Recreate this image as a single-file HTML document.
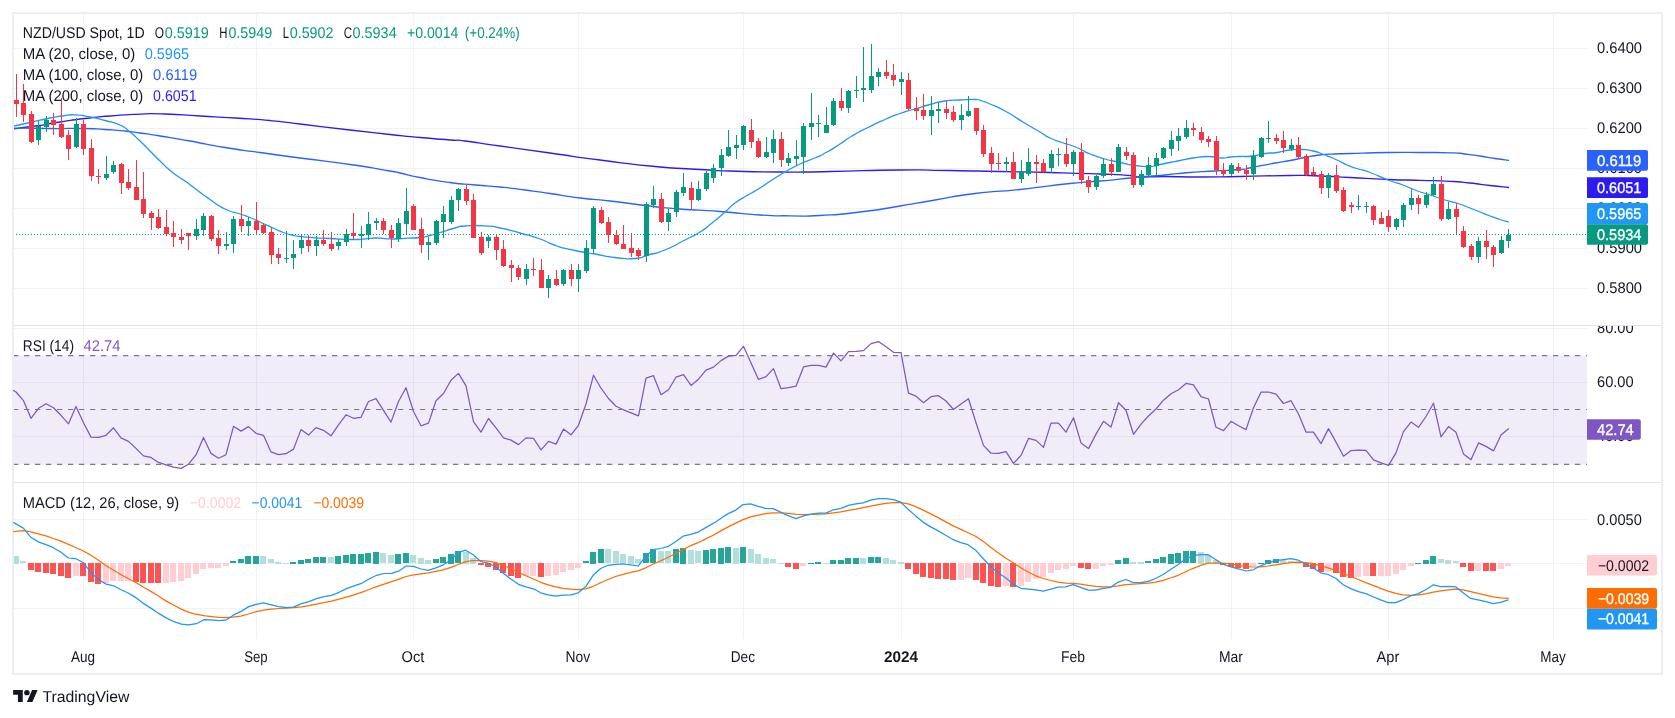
<!DOCTYPE html>
<html><head><meta charset="utf-8"><title>NZD/USD</title>
<style>html,body{margin:0;padding:0;background:#fff}svg{display:block;will-change:transform}text{text-rendering:geometricPrecision}</style></head>
<body>
<svg width="1675" height="718" viewBox="0 0 1675 718" font-family='"Liberation Sans", sans-serif'>
<rect x="0" y="0" width="1675" height="718" fill="#FFFFFF" />
<g shape-rendering="crispEdges">
<rect x="12" y="12" width="1651" height="2" fill="#ECEEF3" />
<rect x="12" y="673" width="1651" height="2" fill="#ECEEF3" />
<rect x="12" y="12" width="2" height="663" fill="#ECEEF3" />
<rect x="1661" y="12" width="2" height="663" fill="#ECEEF3" />
<rect x="83" y="14" width="1" height="625" fill="#F0F2F6" />
<rect x="256" y="14" width="1" height="625" fill="#F0F2F6" />
<rect x="413" y="14" width="1" height="625" fill="#F0F2F6" />
<rect x="578" y="14" width="1" height="625" fill="#F0F2F6" />
<rect x="743" y="14" width="1" height="625" fill="#F0F2F6" />
<rect x="901" y="14" width="1" height="625" fill="#F0F2F6" />
<rect x="1073" y="14" width="1" height="625" fill="#F0F2F6" />
<rect x="1231" y="14" width="1" height="625" fill="#F0F2F6" />
<rect x="1388" y="14" width="1" height="625" fill="#F0F2F6" />
<rect x="1553" y="14" width="1" height="625" fill="#F0F2F6" />
<rect x="14" y="47.5" width="1573" height="1" fill="#F0F2F6" />
<rect x="14" y="87.5" width="1573" height="1" fill="#F0F2F6" />
<rect x="14" y="127.5" width="1573" height="1" fill="#F0F2F6" />
<rect x="14" y="167.5" width="1573" height="1" fill="#F0F2F6" />
<rect x="14" y="207.5" width="1573" height="1" fill="#F0F2F6" />
<rect x="14" y="247.5" width="1573" height="1" fill="#F0F2F6" />
<rect x="14" y="287.5" width="1573" height="1" fill="#F0F2F6" />
<rect x="14" y="327.5" width="1573" height="1" fill="#F0F2F6" />
<rect x="14" y="381.5" width="1573" height="1" fill="#F0F2F6" />
<rect x="14" y="435.5" width="1573" height="1" fill="#F0F2F6" />
<rect x="14" y="518.5" width="1573" height="1" fill="#F0F2F6" />
<rect x="14" y="562.5" width="1573" height="1" fill="#F0F2F6" />
<rect x="14" y="607.5" width="1573" height="1" fill="#F0F2F6" />
<rect x="14" y="325" width="1647" height="1" fill="#E0E3EB" />
<rect x="14" y="482" width="1647" height="1" fill="#E0E3EB" />
</g>
<clipPath id="cm"><rect x="14" y="14" width="1573" height="311"/></clipPath>
<g clip-path="url(#cm)">
<path d="M12.0,129.0 C19.7,128.0 19.0,128.3 35.0,126.0 C51.0,123.7 43.3,124.5 60.0,122.0 C76.7,119.5 68.3,120.5 85.0,118.5 C101.7,116.5 93.3,117.4 110.0,116.0 C126.7,114.6 116.7,115.0 135.0,114.3 C153.3,113.6 143.3,113.4 165.0,114.0 C186.7,114.6 176.7,114.7 200.0,116.0 C223.3,117.3 211.7,116.5 235.0,118.0 C258.3,119.5 248.3,118.5 270.0,120.5 C291.7,122.5 273.3,120.8 300.0,124.0 C326.7,127.2 320.0,126.5 350.0,130.0 C380.0,133.5 366.7,132.0 390.0,134.5 C413.3,137.0 400.0,135.7 420.0,137.5 C440.0,139.3 435.0,138.8 450.0,140.0 C465.0,141.2 448.3,139.0 465.0,141.0 C481.7,143.0 471.7,142.0 500.0,146.0 C528.3,150.0 516.7,148.3 550.0,153.0 C583.3,157.7 566.7,155.7 600.0,160.0 C633.3,164.3 616.7,162.8 650.0,166.0 C683.3,169.2 673.3,167.8 700.0,169.5 C726.7,171.2 703.3,170.2 730.0,171.0 C756.7,171.8 746.7,171.8 780.0,172.0 C813.3,172.2 790.0,172.2 830.0,171.5 C870.0,170.8 860.0,170.3 900.0,170.0 C940.0,169.7 916.7,170.0 950.0,170.5 C983.3,171.0 966.7,170.8 1000.0,171.5 C1033.3,172.2 1016.7,171.7 1050.0,172.5 C1083.3,173.3 1073.3,173.0 1100.0,174.0 C1126.7,175.0 1116.7,174.5 1130.0,175.5 C1143.3,176.5 1128.3,176.7 1140.0,177.0 C1151.7,177.3 1145.0,176.5 1165.0,176.5 C1185.0,176.5 1175.0,177.0 1200.0,177.0 C1225.0,177.0 1210.0,177.0 1240.0,176.5 C1270.0,176.0 1263.3,175.7 1290.0,175.5 C1316.7,175.3 1300.0,175.3 1320.0,176.0 C1340.0,176.7 1327.3,176.3 1350.0,177.5 C1372.7,178.7 1364.7,178.6 1388.0,179.5 C1411.3,180.4 1399.3,179.7 1420.0,180.3 C1440.7,180.9 1433.3,180.4 1450.0,181.3 C1466.7,182.2 1456.7,181.6 1470.0,183.0 C1483.3,184.4 1477.2,184.0 1490.0,185.5 C1502.8,187.0 1502.3,186.8 1508.5,187.5" fill="none" stroke="#2D1CF0" stroke-width="1.3" stroke-linejoin="round" stroke-linecap="round" />
<path d="M12.0,128.0 C24.7,128.2 25.7,128.3 50.0,128.5 C74.3,128.7 66.7,128.2 85.0,128.5 C103.3,128.8 91.7,128.7 105.0,129.5 C118.3,130.3 113.3,129.8 125.0,131.0 C136.7,132.2 128.3,131.3 140.0,133.0 C151.7,134.7 143.3,133.3 160.0,136.0 C176.7,138.7 168.3,137.2 190.0,141.0 C211.7,144.8 201.7,143.7 225.0,147.5 C248.3,151.3 235.0,149.0 260.0,152.5 C285.0,156.0 270.0,154.0 300.0,158.0 C330.0,162.0 320.0,160.2 350.0,164.5 C380.0,168.8 373.3,168.2 390.0,171.0 C406.7,173.8 390.0,170.8 400.0,173.0 C410.0,175.2 403.3,174.3 420.0,177.5 C436.7,180.7 431.7,180.0 450.0,182.5 C468.3,185.0 458.3,183.5 475.0,185.0 C491.7,186.5 483.3,185.3 500.0,187.0 C516.7,188.7 508.3,187.8 525.0,190.0 C541.7,192.2 531.7,190.8 550.0,193.5 C568.3,196.2 560.0,195.5 580.0,198.0 C600.0,200.5 586.7,198.3 610.0,201.0 C633.3,203.7 626.7,203.3 650.0,206.0 C673.3,208.7 656.7,207.2 680.0,209.0 C703.3,210.8 693.3,209.5 720.0,211.5 C746.7,213.5 736.7,213.6 760.0,215.0 C783.3,216.4 770.0,215.6 790.0,215.8 C810.0,216.0 796.7,216.8 820.0,215.5 C843.3,214.2 833.3,215.2 860.0,212.0 C886.7,208.8 875.0,210.0 900.0,206.0 C925.0,202.0 910.0,204.2 935.0,200.0 C960.0,195.8 946.7,197.0 975.0,193.5 C1003.3,190.0 988.3,192.8 1020.0,189.5 C1051.7,186.2 1043.3,186.3 1070.0,183.5 C1096.7,180.7 1080.0,182.8 1100.0,181.0 C1120.0,179.2 1116.7,179.3 1130.0,178.0 C1143.3,176.7 1128.3,178.0 1140.0,177.0 C1151.7,176.0 1148.3,176.5 1165.0,175.0 C1181.7,173.5 1173.3,173.8 1190.0,172.5 C1206.7,171.2 1198.3,172.0 1215.0,171.0 C1231.7,170.0 1227.7,170.7 1240.0,169.5 C1252.3,168.3 1240.3,169.7 1252.0,167.5 C1263.7,165.3 1262.3,165.3 1275.0,163.0 C1287.7,160.7 1280.0,162.3 1290.0,160.5 C1300.0,158.7 1295.0,159.3 1305.0,157.5 C1315.0,155.7 1310.0,156.2 1320.0,155.0 C1330.0,153.8 1325.0,154.5 1335.0,154.0 C1345.0,153.5 1332.3,154.0 1350.0,153.5 C1367.7,153.0 1364.7,152.8 1388.0,152.5 C1411.3,152.2 1399.3,152.4 1420.0,152.5 C1440.7,152.6 1435.0,152.3 1450.0,152.8 C1465.0,153.3 1455.0,152.9 1465.0,154.0 C1475.0,155.1 1470.0,154.5 1480.0,156.0 C1490.0,157.5 1485.5,157.1 1495.0,158.5 C1504.5,159.9 1504.0,159.7 1508.5,160.3" fill="none" stroke="#2962FF" stroke-width="1.3" stroke-linejoin="round" stroke-linecap="round" />
<path d="M12.0,126.5 C18.0,125.2 17.3,125.3 30.0,122.5 C42.7,119.7 39.3,120.2 50.0,118.0 C60.7,115.8 53.7,117.1 62.0,116.0 C70.3,114.9 65.7,114.5 75.0,114.8 C84.3,115.1 80.0,115.1 90.0,117.0 C100.0,118.9 95.0,117.8 105.0,120.5 C115.0,123.2 111.7,121.2 120.0,125.0 C128.3,128.8 123.3,126.7 130.0,132.0 C136.7,137.3 133.3,134.7 140.0,141.0 C146.7,147.3 143.3,144.3 150.0,151.0 C156.7,157.7 152.7,154.0 160.0,161.0 C167.3,168.0 163.7,165.3 172.0,172.0 C180.3,178.7 176.7,175.0 185.0,181.0 C193.3,187.0 188.7,183.8 197.0,190.0 C205.3,196.2 200.7,193.2 210.0,199.5 C219.3,205.8 215.0,204.2 225.0,209.0 C235.0,213.8 231.7,211.2 240.0,214.0 C248.3,216.8 242.7,214.5 250.0,217.5 C257.3,220.5 253.7,219.2 262.0,223.0 C270.3,226.8 267.3,225.7 275.0,229.0 C282.7,232.3 279.3,231.0 285.0,233.0 C290.7,235.0 287.0,233.8 292.0,235.0 C297.0,236.2 292.3,235.6 300.0,236.5 C307.7,237.4 305.0,237.1 315.0,237.8 C325.0,238.5 317.7,237.9 330.0,238.5 C342.3,239.1 340.3,239.4 352.0,239.5 C363.7,239.6 357.3,239.3 365.0,238.8 C372.7,238.3 368.3,238.1 375.0,238.0 C381.7,237.9 378.3,238.3 385.0,238.6 C391.7,238.9 387.3,239.1 395.0,239.0 C402.7,238.9 399.7,238.7 408.0,238.2 C416.3,237.7 412.7,238.4 420.0,237.5 C427.3,236.6 423.3,237.2 430.0,235.5 C436.7,233.8 431.7,235.0 440.0,232.5 C448.3,230.0 446.7,230.2 455.0,228.0 C463.3,225.8 455.0,226.7 465.0,226.0 C475.0,225.3 473.3,225.1 485.0,225.8 C496.7,226.5 488.3,225.6 500.0,228.0 C511.7,230.4 506.7,229.3 520.0,233.0 C533.3,236.7 527.7,234.7 540.0,239.0 C552.3,243.3 545.3,242.2 557.0,246.0 C568.7,249.8 562.3,247.8 575.0,250.5 C587.7,253.2 581.7,251.7 595.0,254.0 C608.3,256.3 601.7,256.0 615.0,257.5 C628.3,259.0 624.0,259.3 635.0,258.5 C646.0,257.7 638.0,257.8 648.0,255.0 C658.0,252.2 652.7,255.0 665.0,250.0 C677.3,245.0 673.3,246.0 685.0,240.0 C696.7,234.0 691.0,237.7 700.0,232.0 C709.0,226.3 703.7,229.7 712.0,223.0 C720.3,216.3 717.3,218.7 725.0,212.0 C732.7,205.3 727.3,208.7 735.0,203.0 C742.7,197.3 739.7,200.0 748.0,195.0 C756.3,190.0 752.0,193.0 760.0,188.0 C768.0,183.0 763.7,185.3 772.0,180.0 C780.3,174.7 775.7,177.3 785.0,172.0 C794.3,166.7 790.0,168.7 800.0,164.0 C810.0,159.3 806.0,162.0 815.0,158.0 C824.0,154.0 818.7,156.7 827.0,152.0 C835.3,147.3 831.7,149.3 840.0,144.0 C848.3,138.7 842.7,141.5 852.0,136.0 C861.3,130.5 857.0,133.0 868.0,127.5 C879.0,122.0 874.3,124.2 885.0,119.5 C895.7,114.8 890.0,117.0 900.0,113.5 C910.0,110.0 905.0,112.0 915.0,109.0 C925.0,106.0 920.0,107.2 930.0,104.5 C940.0,101.8 935.0,102.5 945.0,101.0 C955.0,99.5 950.0,100.5 960.0,100.0 C970.0,99.5 967.7,99.2 975.0,99.5 C982.3,99.8 977.0,99.5 982.0,101.0 C987.0,102.5 982.3,100.7 990.0,104.0 C997.7,107.3 994.0,105.0 1005.0,111.0 C1016.0,117.0 1011.3,115.0 1023.0,122.0 C1034.7,129.0 1031.0,126.7 1040.0,132.0 C1049.0,137.3 1042.7,134.5 1050.0,138.0 C1057.3,141.5 1054.3,139.8 1062.0,142.5 C1069.7,145.2 1066.3,143.5 1073.0,146.0 C1079.7,148.5 1076.3,147.3 1082.0,150.0 C1087.7,152.7 1082.3,151.0 1090.0,154.0 C1097.7,157.0 1095.7,156.3 1105.0,159.0 C1114.3,161.7 1108.0,159.8 1118.0,162.0 C1128.0,164.2 1124.3,164.0 1135.0,165.5 C1145.7,167.0 1141.7,166.8 1150.0,166.5 C1158.3,166.2 1153.3,165.8 1160.0,164.5 C1166.7,163.2 1163.3,163.8 1170.0,162.5 C1176.7,161.2 1172.3,162.0 1180.0,160.5 C1187.7,159.0 1183.7,159.3 1193.0,158.0 C1202.3,156.7 1198.3,156.5 1208.0,156.5 C1217.7,156.5 1214.7,157.8 1222.0,158.0 C1229.3,158.2 1224.0,157.5 1230.0,157.0 C1236.0,156.5 1232.7,156.8 1240.0,156.5 C1247.3,156.2 1243.7,157.0 1252.0,156.0 C1260.3,155.0 1256.7,154.7 1265.0,153.5 C1273.3,152.3 1268.7,153.7 1277.0,152.5 C1285.3,151.3 1281.7,151.0 1290.0,150.0 C1298.3,149.0 1294.3,149.2 1302.0,149.5 C1309.7,149.8 1305.3,149.2 1313.0,151.0 C1320.7,152.8 1317.0,152.0 1325.0,155.0 C1333.0,158.0 1329.7,156.7 1337.0,160.0 C1344.3,163.3 1340.3,162.2 1347.0,165.0 C1353.7,167.8 1349.3,166.0 1357.0,168.5 C1364.7,171.0 1359.7,168.7 1370.0,172.5 C1380.3,176.3 1377.0,175.8 1388.0,180.0 C1399.0,184.2 1394.0,181.7 1403.0,185.0 C1412.0,188.3 1406.0,186.7 1415.0,190.0 C1424.0,193.3 1420.0,191.7 1430.0,195.0 C1440.0,198.3 1435.7,197.2 1445.0,200.0 C1454.3,202.8 1449.7,200.8 1458.0,203.5 C1466.3,206.2 1462.7,205.2 1470.0,208.0 C1477.3,210.8 1473.3,209.3 1480.0,212.0 C1486.7,214.7 1483.3,213.5 1490.0,216.0 C1496.7,218.5 1493.8,217.5 1500.0,219.5 C1506.2,221.5 1505.7,221.2 1508.5,222.0" fill="none" stroke="#2196F3" stroke-width="1.3" stroke-linejoin="round" stroke-linecap="round" />
<g shape-rendering="crispEdges">
<path d="M13,234.5h1M16,234.5h1M19,234.5h1M22,234.5h1M25,234.5h1M28,234.5h1M31,234.5h1M34,234.5h1M37,234.5h1M40,234.5h1M43,234.5h1M46,234.5h1M49,234.5h1M52,234.5h1M55,234.5h1M58,234.5h1M61,234.5h1M64,234.5h1M67,234.5h1M70,234.5h1M73,234.5h1M76,234.5h1M79,234.5h1M82,234.5h1M85,234.5h1M88,234.5h1M91,234.5h1M94,234.5h1M97,234.5h1M100,234.5h1M103,234.5h1M106,234.5h1M109,234.5h1M112,234.5h1M115,234.5h1M118,234.5h1M121,234.5h1M124,234.5h1M127,234.5h1M130,234.5h1M133,234.5h1M136,234.5h1M139,234.5h1M142,234.5h1M145,234.5h1M148,234.5h1M151,234.5h1M154,234.5h1M157,234.5h1M160,234.5h1M163,234.5h1M166,234.5h1M169,234.5h1M172,234.5h1M175,234.5h1M178,234.5h1M181,234.5h1M184,234.5h1M187,234.5h1M190,234.5h1M193,234.5h1M196,234.5h1M199,234.5h1M202,234.5h1M205,234.5h1M208,234.5h1M211,234.5h1M214,234.5h1M217,234.5h1M220,234.5h1M223,234.5h1M226,234.5h1M229,234.5h1M232,234.5h1M235,234.5h1M238,234.5h1M241,234.5h1M244,234.5h1M247,234.5h1M250,234.5h1M253,234.5h1M256,234.5h1M259,234.5h1M262,234.5h1M265,234.5h1M268,234.5h1M271,234.5h1M274,234.5h1M277,234.5h1M280,234.5h1M283,234.5h1M286,234.5h1M289,234.5h1M292,234.5h1M295,234.5h1M298,234.5h1M301,234.5h1M304,234.5h1M307,234.5h1M310,234.5h1M313,234.5h1M316,234.5h1M319,234.5h1M322,234.5h1M325,234.5h1M328,234.5h1M331,234.5h1M334,234.5h1M337,234.5h1M340,234.5h1M343,234.5h1M346,234.5h1M349,234.5h1M352,234.5h1M355,234.5h1M358,234.5h1M361,234.5h1M364,234.5h1M367,234.5h1M370,234.5h1M373,234.5h1M376,234.5h1M379,234.5h1M382,234.5h1M385,234.5h1M388,234.5h1M391,234.5h1M394,234.5h1M397,234.5h1M400,234.5h1M403,234.5h1M406,234.5h1M409,234.5h1M412,234.5h1M415,234.5h1M418,234.5h1M421,234.5h1M424,234.5h1M427,234.5h1M430,234.5h1M433,234.5h1M436,234.5h1M439,234.5h1M442,234.5h1M445,234.5h1M448,234.5h1M451,234.5h1M454,234.5h1M457,234.5h1M460,234.5h1M463,234.5h1M466,234.5h1M469,234.5h1M472,234.5h1M475,234.5h1M478,234.5h1M481,234.5h1M484,234.5h1M487,234.5h1M490,234.5h1M493,234.5h1M496,234.5h1M499,234.5h1M502,234.5h1M505,234.5h1M508,234.5h1M511,234.5h1M514,234.5h1M517,234.5h1M520,234.5h1M523,234.5h1M526,234.5h1M529,234.5h1M532,234.5h1M535,234.5h1M538,234.5h1M541,234.5h1M544,234.5h1M547,234.5h1M550,234.5h1M553,234.5h1M556,234.5h1M559,234.5h1M562,234.5h1M565,234.5h1M568,234.5h1M571,234.5h1M574,234.5h1M577,234.5h1M580,234.5h1M583,234.5h1M586,234.5h1M589,234.5h1M592,234.5h1M595,234.5h1M598,234.5h1M601,234.5h1M604,234.5h1M607,234.5h1M610,234.5h1M613,234.5h1M616,234.5h1M619,234.5h1M622,234.5h1M625,234.5h1M628,234.5h1M631,234.5h1M634,234.5h1M637,234.5h1M640,234.5h1M643,234.5h1M646,234.5h1M649,234.5h1M652,234.5h1M655,234.5h1M658,234.5h1M661,234.5h1M664,234.5h1M667,234.5h1M670,234.5h1M673,234.5h1M676,234.5h1M679,234.5h1M682,234.5h1M685,234.5h1M688,234.5h1M691,234.5h1M694,234.5h1M697,234.5h1M700,234.5h1M703,234.5h1M706,234.5h1M709,234.5h1M712,234.5h1M715,234.5h1M718,234.5h1M721,234.5h1M724,234.5h1M727,234.5h1M730,234.5h1M733,234.5h1M736,234.5h1M739,234.5h1M742,234.5h1M745,234.5h1M748,234.5h1M751,234.5h1M754,234.5h1M757,234.5h1M760,234.5h1M763,234.5h1M766,234.5h1M769,234.5h1M772,234.5h1M775,234.5h1M778,234.5h1M781,234.5h1M784,234.5h1M787,234.5h1M790,234.5h1M793,234.5h1M796,234.5h1M799,234.5h1M802,234.5h1M805,234.5h1M808,234.5h1M811,234.5h1M814,234.5h1M817,234.5h1M820,234.5h1M823,234.5h1M826,234.5h1M829,234.5h1M832,234.5h1M835,234.5h1M838,234.5h1M841,234.5h1M844,234.5h1M847,234.5h1M850,234.5h1M853,234.5h1M856,234.5h1M859,234.5h1M862,234.5h1M865,234.5h1M868,234.5h1M871,234.5h1M874,234.5h1M877,234.5h1M880,234.5h1M883,234.5h1M886,234.5h1M889,234.5h1M892,234.5h1M895,234.5h1M898,234.5h1M901,234.5h1M904,234.5h1M907,234.5h1M910,234.5h1M913,234.5h1M916,234.5h1M919,234.5h1M922,234.5h1M925,234.5h1M928,234.5h1M931,234.5h1M934,234.5h1M937,234.5h1M940,234.5h1M943,234.5h1M946,234.5h1M949,234.5h1M952,234.5h1M955,234.5h1M958,234.5h1M961,234.5h1M964,234.5h1M967,234.5h1M970,234.5h1M973,234.5h1M976,234.5h1M979,234.5h1M982,234.5h1M985,234.5h1M988,234.5h1M991,234.5h1M994,234.5h1M997,234.5h1M1000,234.5h1M1003,234.5h1M1006,234.5h1M1009,234.5h1M1012,234.5h1M1015,234.5h1M1018,234.5h1M1021,234.5h1M1024,234.5h1M1027,234.5h1M1030,234.5h1M1033,234.5h1M1036,234.5h1M1039,234.5h1M1042,234.5h1M1045,234.5h1M1048,234.5h1M1051,234.5h1M1054,234.5h1M1057,234.5h1M1060,234.5h1M1063,234.5h1M1066,234.5h1M1069,234.5h1M1072,234.5h1M1075,234.5h1M1078,234.5h1M1081,234.5h1M1084,234.5h1M1087,234.5h1M1090,234.5h1M1093,234.5h1M1096,234.5h1M1099,234.5h1M1102,234.5h1M1105,234.5h1M1108,234.5h1M1111,234.5h1M1114,234.5h1M1117,234.5h1M1120,234.5h1M1123,234.5h1M1126,234.5h1M1129,234.5h1M1132,234.5h1M1135,234.5h1M1138,234.5h1M1141,234.5h1M1144,234.5h1M1147,234.5h1M1150,234.5h1M1153,234.5h1M1156,234.5h1M1159,234.5h1M1162,234.5h1M1165,234.5h1M1168,234.5h1M1171,234.5h1M1174,234.5h1M1177,234.5h1M1180,234.5h1M1183,234.5h1M1186,234.5h1M1189,234.5h1M1192,234.5h1M1195,234.5h1M1198,234.5h1M1201,234.5h1M1204,234.5h1M1207,234.5h1M1210,234.5h1M1213,234.5h1M1216,234.5h1M1219,234.5h1M1222,234.5h1M1225,234.5h1M1228,234.5h1M1231,234.5h1M1234,234.5h1M1237,234.5h1M1240,234.5h1M1243,234.5h1M1246,234.5h1M1249,234.5h1M1252,234.5h1M1255,234.5h1M1258,234.5h1M1261,234.5h1M1264,234.5h1M1267,234.5h1M1270,234.5h1M1273,234.5h1M1276,234.5h1M1279,234.5h1M1282,234.5h1M1285,234.5h1M1288,234.5h1M1291,234.5h1M1294,234.5h1M1297,234.5h1M1300,234.5h1M1303,234.5h1M1306,234.5h1M1309,234.5h1M1312,234.5h1M1315,234.5h1M1318,234.5h1M1321,234.5h1M1324,234.5h1M1327,234.5h1M1330,234.5h1M1333,234.5h1M1336,234.5h1M1339,234.5h1M1342,234.5h1M1345,234.5h1M1348,234.5h1M1351,234.5h1M1354,234.5h1M1357,234.5h1M1360,234.5h1M1363,234.5h1M1366,234.5h1M1369,234.5h1M1372,234.5h1M1375,234.5h1M1378,234.5h1M1381,234.5h1M1384,234.5h1M1387,234.5h1M1390,234.5h1M1393,234.5h1M1396,234.5h1M1399,234.5h1M1402,234.5h1M1405,234.5h1M1408,234.5h1M1411,234.5h1M1414,234.5h1M1417,234.5h1M1420,234.5h1M1423,234.5h1M1426,234.5h1M1429,234.5h1M1432,234.5h1M1435,234.5h1M1438,234.5h1M1441,234.5h1M1444,234.5h1M1447,234.5h1M1450,234.5h1M1453,234.5h1M1456,234.5h1M1459,234.5h1M1462,234.5h1M1465,234.5h1M1468,234.5h1M1471,234.5h1M1474,234.5h1M1477,234.5h1M1480,234.5h1M1483,234.5h1M1486,234.5h1M1489,234.5h1M1492,234.5h1M1495,234.5h1M1498,234.5h1M1501,234.5h1M1504,234.5h1M1507,234.5h1M1510,234.5h1M1513,234.5h1M1516,234.5h1M1519,234.5h1M1522,234.5h1M1525,234.5h1M1528,234.5h1M1531,234.5h1M1534,234.5h1M1537,234.5h1M1540,234.5h1M1543,234.5h1M1546,234.5h1M1549,234.5h1M1552,234.5h1M1555,234.5h1M1558,234.5h1M1561,234.5h1M1564,234.5h1M1567,234.5h1M1570,234.5h1M1573,234.5h1M1576,234.5h1M1579,234.5h1M1582,234.5h1M1585,234.5h1" stroke="#089981" stroke-width="1" fill="none"/>
<rect x="16" y="74" width="1" height="43" fill="#F23645" />
<rect x="14" y="100" width="5" height="4" fill="#F23645" />
<rect x="23" y="84" width="1" height="38" fill="#F23645" />
<rect x="21" y="103" width="5" height="12" fill="#F23645" />
<rect x="31" y="111" width="1" height="32" fill="#F23645" />
<rect x="29" y="114" width="5" height="28" fill="#F23645" />
<rect x="38" y="121" width="1" height="24" fill="#089981" />
<rect x="36" y="126" width="5" height="14" fill="#089981" />
<rect x="46" y="116" width="1" height="16" fill="#089981" />
<rect x="44" y="120" width="5" height="7" fill="#089981" />
<rect x="53" y="113" width="1" height="22" fill="#F23645" />
<rect x="51" y="120" width="5" height="5" fill="#F23645" />
<rect x="61" y="98" width="1" height="40" fill="#F23645" />
<rect x="59" y="124" width="5" height="13" fill="#F23645" />
<rect x="68" y="130" width="1" height="30" fill="#F23645" />
<rect x="66" y="135" width="5" height="14" fill="#F23645" />
<rect x="76" y="118" width="1" height="30" fill="#089981" />
<rect x="74" y="124" width="5" height="23" fill="#089981" />
<rect x="83" y="120" width="1" height="35" fill="#F23645" />
<rect x="81" y="124" width="5" height="25" fill="#F23645" />
<rect x="91" y="139" width="1" height="42" fill="#F23645" />
<rect x="89" y="148" width="5" height="28" fill="#F23645" />
<rect x="98" y="169" width="1" height="15" fill="#F23645" />
<rect x="96" y="176" width="5" height="1" fill="#F23645" />
<rect x="106" y="156" width="1" height="24" fill="#089981" />
<rect x="104" y="174" width="5" height="4" fill="#089981" />
<rect x="113" y="161" width="1" height="13" fill="#089981" />
<rect x="111" y="165" width="5" height="7" fill="#089981" />
<rect x="121" y="163" width="1" height="31" fill="#F23645" />
<rect x="119" y="164" width="5" height="19" fill="#F23645" />
<rect x="128" y="169" width="1" height="21" fill="#F23645" />
<rect x="126" y="182" width="5" height="6" fill="#F23645" />
<rect x="136" y="160" width="1" height="40" fill="#F23645" />
<rect x="134" y="187" width="5" height="13" fill="#F23645" />
<rect x="143" y="172" width="1" height="46" fill="#F23645" />
<rect x="141" y="199" width="5" height="15" fill="#F23645" />
<rect x="151" y="211" width="1" height="19" fill="#F23645" />
<rect x="149" y="213" width="5" height="5" fill="#F23645" />
<rect x="158" y="209" width="1" height="20" fill="#F23645" />
<rect x="156" y="217" width="5" height="11" fill="#F23645" />
<rect x="166" y="210" width="1" height="26" fill="#F23645" />
<rect x="164" y="227" width="5" height="7" fill="#F23645" />
<rect x="173" y="221" width="1" height="26" fill="#F23645" />
<rect x="171" y="233" width="5" height="4" fill="#F23645" />
<rect x="181" y="229" width="1" height="15" fill="#F23645" />
<rect x="179" y="237" width="5" height="3" fill="#F23645" />
<rect x="188" y="233" width="1" height="17" fill="#F23645" />
<rect x="186" y="233" width="5" height="3" fill="#F23645" />
<rect x="196" y="219" width="1" height="21" fill="#089981" />
<rect x="194" y="229" width="5" height="7" fill="#089981" />
<rect x="203" y="213" width="1" height="23" fill="#089981" />
<rect x="201" y="216" width="5" height="14" fill="#089981" />
<rect x="211" y="215" width="1" height="26" fill="#F23645" />
<rect x="209" y="216" width="5" height="23" fill="#F23645" />
<rect x="218" y="230" width="1" height="24" fill="#F23645" />
<rect x="216" y="238" width="5" height="8" fill="#F23645" />
<rect x="226" y="232" width="1" height="18" fill="#089981" />
<rect x="224" y="244" width="5" height="2" fill="#089981" />
<rect x="233" y="216" width="1" height="37" fill="#089981" />
<rect x="231" y="219" width="5" height="25" fill="#089981" />
<rect x="241" y="205" width="1" height="27" fill="#F23645" />
<rect x="239" y="219" width="5" height="7" fill="#F23645" />
<rect x="248" y="217" width="1" height="19" fill="#089981" />
<rect x="246" y="221" width="5" height="5" fill="#089981" />
<rect x="256" y="202" width="1" height="32" fill="#F23645" />
<rect x="254" y="221" width="5" height="9" fill="#F23645" />
<rect x="263" y="223" width="1" height="11" fill="#F23645" />
<rect x="261" y="225" width="5" height="8" fill="#F23645" />
<rect x="271" y="228" width="1" height="36" fill="#F23645" />
<rect x="269" y="232" width="5" height="23" fill="#F23645" />
<rect x="278" y="248" width="1" height="16" fill="#F23645" />
<rect x="276" y="254" width="5" height="4" fill="#F23645" />
<rect x="286" y="231" width="1" height="32" fill="#089981" />
<rect x="284" y="258" width="5" height="1" fill="#089981" />
<rect x="293" y="240" width="1" height="29" fill="#089981" />
<rect x="291" y="254" width="5" height="4" fill="#089981" />
<rect x="301" y="234" width="1" height="20" fill="#089981" />
<rect x="299" y="240" width="5" height="8" fill="#089981" />
<rect x="308" y="235" width="1" height="17" fill="#F23645" />
<rect x="306" y="240" width="5" height="6" fill="#F23645" />
<rect x="316" y="236" width="1" height="20" fill="#089981" />
<rect x="314" y="240" width="5" height="6" fill="#089981" />
<rect x="323" y="230" width="1" height="16" fill="#F23645" />
<rect x="321" y="240" width="5" height="4" fill="#F23645" />
<rect x="331" y="232" width="1" height="19" fill="#F23645" />
<rect x="329" y="244" width="5" height="5" fill="#F23645" />
<rect x="338" y="239" width="1" height="11" fill="#089981" />
<rect x="336" y="242" width="5" height="4" fill="#089981" />
<rect x="346" y="229" width="1" height="17" fill="#089981" />
<rect x="344" y="234" width="5" height="8" fill="#089981" />
<rect x="353" y="213" width="1" height="27" fill="#F23645" />
<rect x="351" y="233" width="5" height="3" fill="#F23645" />
<rect x="361" y="226" width="1" height="22" fill="#089981" />
<rect x="359" y="234" width="5" height="2" fill="#089981" />
<rect x="368" y="212" width="1" height="28" fill="#089981" />
<rect x="366" y="224" width="5" height="11" fill="#089981" />
<rect x="376" y="218" width="1" height="12" fill="#089981" />
<rect x="374" y="221" width="5" height="2" fill="#089981" />
<rect x="383" y="218" width="1" height="16" fill="#F23645" />
<rect x="381" y="221" width="5" height="9" fill="#F23645" />
<rect x="391" y="225" width="1" height="23" fill="#F23645" />
<rect x="389" y="230" width="5" height="8" fill="#F23645" />
<rect x="398" y="218" width="1" height="24" fill="#089981" />
<rect x="396" y="223" width="5" height="16" fill="#089981" />
<rect x="406" y="188" width="1" height="46" fill="#089981" />
<rect x="404" y="211" width="5" height="13" fill="#089981" />
<rect x="413" y="204" width="1" height="26" fill="#F23645" />
<rect x="411" y="206" width="5" height="24" fill="#F23645" />
<rect x="421" y="218" width="1" height="35" fill="#F23645" />
<rect x="419" y="229" width="5" height="16" fill="#F23645" />
<rect x="428" y="237" width="1" height="23" fill="#089981" />
<rect x="426" y="242" width="5" height="3" fill="#089981" />
<rect x="436" y="220" width="1" height="25" fill="#089981" />
<rect x="434" y="221" width="5" height="22" fill="#089981" />
<rect x="443" y="206" width="1" height="32" fill="#089981" />
<rect x="441" y="214" width="5" height="8" fill="#089981" />
<rect x="451" y="196" width="1" height="28" fill="#089981" />
<rect x="449" y="200" width="5" height="22" fill="#089981" />
<rect x="458" y="188" width="1" height="23" fill="#089981" />
<rect x="456" y="189" width="5" height="11" fill="#089981" />
<rect x="466" y="185" width="1" height="20" fill="#F23645" />
<rect x="464" y="189" width="5" height="12" fill="#F23645" />
<rect x="473" y="194" width="1" height="44" fill="#F23645" />
<rect x="471" y="200" width="5" height="38" fill="#F23645" />
<rect x="481" y="232" width="1" height="23" fill="#F23645" />
<rect x="479" y="237" width="5" height="16" fill="#F23645" />
<rect x="488" y="235" width="1" height="13" fill="#089981" />
<rect x="486" y="237" width="5" height="4" fill="#089981" />
<rect x="496" y="235" width="1" height="25" fill="#F23645" />
<rect x="494" y="237" width="5" height="13" fill="#F23645" />
<rect x="503" y="240" width="1" height="27" fill="#F23645" />
<rect x="501" y="249" width="5" height="17" fill="#F23645" />
<rect x="511" y="260" width="1" height="22" fill="#F23645" />
<rect x="509" y="265" width="5" height="3" fill="#F23645" />
<rect x="518" y="265" width="1" height="15" fill="#F23645" />
<rect x="516" y="268" width="5" height="9" fill="#F23645" />
<rect x="526" y="264" width="1" height="21" fill="#089981" />
<rect x="524" y="269" width="5" height="10" fill="#089981" />
<rect x="533" y="258" width="1" height="18" fill="#F23645" />
<rect x="531" y="269" width="5" height="1" fill="#F23645" />
<rect x="541" y="259" width="1" height="29" fill="#F23645" />
<rect x="539" y="270" width="5" height="18" fill="#F23645" />
<rect x="548" y="275" width="1" height="23" fill="#089981" />
<rect x="546" y="279" width="5" height="9" fill="#089981" />
<rect x="556" y="270" width="1" height="16" fill="#F23645" />
<rect x="554" y="279" width="5" height="6" fill="#F23645" />
<rect x="563" y="269" width="1" height="17" fill="#089981" />
<rect x="561" y="270" width="5" height="14" fill="#089981" />
<rect x="571" y="264" width="1" height="22" fill="#F23645" />
<rect x="569" y="270" width="5" height="9" fill="#F23645" />
<rect x="578" y="264" width="1" height="28" fill="#089981" />
<rect x="576" y="270" width="5" height="9" fill="#089981" />
<rect x="586" y="240" width="1" height="33" fill="#089981" />
<rect x="584" y="248" width="5" height="23" fill="#089981" />
<rect x="593" y="206" width="1" height="48" fill="#089981" />
<rect x="591" y="208" width="5" height="41" fill="#089981" />
<rect x="601" y="207" width="1" height="17" fill="#F23645" />
<rect x="599" y="210" width="5" height="13" fill="#F23645" />
<rect x="608" y="217" width="1" height="26" fill="#F23645" />
<rect x="606" y="222" width="5" height="13" fill="#F23645" />
<rect x="616" y="230" width="1" height="15" fill="#F23645" />
<rect x="614" y="235" width="5" height="9" fill="#F23645" />
<rect x="623" y="225" width="1" height="24" fill="#F23645" />
<rect x="621" y="244" width="5" height="5" fill="#F23645" />
<rect x="631" y="233" width="1" height="24" fill="#F23645" />
<rect x="629" y="248" width="5" height="5" fill="#F23645" />
<rect x="638" y="248" width="1" height="12" fill="#F23645" />
<rect x="636" y="250" width="5" height="6" fill="#F23645" />
<rect x="646" y="202" width="1" height="60" fill="#089981" />
<rect x="644" y="204" width="5" height="52" fill="#089981" />
<rect x="653" y="186" width="1" height="22" fill="#089981" />
<rect x="651" y="199" width="5" height="6" fill="#089981" />
<rect x="661" y="193" width="1" height="30" fill="#F23645" />
<rect x="659" y="199" width="5" height="23" fill="#F23645" />
<rect x="668" y="209" width="1" height="22" fill="#089981" />
<rect x="666" y="213" width="5" height="9" fill="#089981" />
<rect x="676" y="190" width="1" height="27" fill="#089981" />
<rect x="674" y="192" width="5" height="20" fill="#089981" />
<rect x="683" y="173" width="1" height="23" fill="#089981" />
<rect x="681" y="187" width="5" height="6" fill="#089981" />
<rect x="691" y="182" width="1" height="27" fill="#F23645" />
<rect x="689" y="188" width="5" height="12" fill="#F23645" />
<rect x="698" y="181" width="1" height="20" fill="#089981" />
<rect x="696" y="189" width="5" height="11" fill="#089981" />
<rect x="706" y="171" width="1" height="20" fill="#089981" />
<rect x="704" y="173" width="5" height="16" fill="#089981" />
<rect x="713" y="164" width="1" height="19" fill="#089981" />
<rect x="711" y="168" width="5" height="10" fill="#089981" />
<rect x="721" y="149" width="1" height="27" fill="#089981" />
<rect x="719" y="155" width="5" height="13" fill="#089981" />
<rect x="728" y="130" width="1" height="27" fill="#089981" />
<rect x="726" y="147" width="5" height="9" fill="#089981" />
<rect x="736" y="135" width="1" height="24" fill="#089981" />
<rect x="734" y="145" width="5" height="3" fill="#089981" />
<rect x="743" y="125" width="1" height="25" fill="#089981" />
<rect x="741" y="126" width="5" height="19" fill="#089981" />
<rect x="751" y="119" width="1" height="29" fill="#F23645" />
<rect x="749" y="130" width="5" height="12" fill="#F23645" />
<rect x="758" y="138" width="1" height="20" fill="#F23645" />
<rect x="756" y="141" width="5" height="16" fill="#F23645" />
<rect x="766" y="137" width="1" height="21" fill="#089981" />
<rect x="764" y="152" width="5" height="5" fill="#089981" />
<rect x="773" y="130" width="1" height="33" fill="#089981" />
<rect x="771" y="139" width="5" height="14" fill="#089981" />
<rect x="781" y="132" width="1" height="35" fill="#F23645" />
<rect x="779" y="139" width="5" height="21" fill="#F23645" />
<rect x="788" y="153" width="1" height="13" fill="#089981" />
<rect x="786" y="158" width="5" height="5" fill="#089981" />
<rect x="796" y="140" width="1" height="26" fill="#089981" />
<rect x="794" y="156" width="5" height="3" fill="#089981" />
<rect x="803" y="123" width="1" height="51" fill="#089981" />
<rect x="801" y="126" width="5" height="31" fill="#089981" />
<rect x="811" y="93" width="1" height="47" fill="#089981" />
<rect x="809" y="123" width="5" height="4" fill="#089981" />
<rect x="818" y="115" width="1" height="22" fill="#089981" />
<rect x="816" y="123" width="5" height="1" fill="#089981" />
<rect x="826" y="107" width="1" height="26" fill="#089981" />
<rect x="824" y="125" width="5" height="8" fill="#089981" />
<rect x="833" y="98" width="1" height="28" fill="#089981" />
<rect x="831" y="101" width="5" height="24" fill="#089981" />
<rect x="841" y="88" width="1" height="23" fill="#F23645" />
<rect x="839" y="101" width="5" height="7" fill="#F23645" />
<rect x="848" y="90" width="1" height="23" fill="#089981" />
<rect x="846" y="91" width="5" height="17" fill="#089981" />
<rect x="856" y="76" width="1" height="22" fill="#089981" />
<rect x="854" y="90" width="5" height="1" fill="#089981" />
<rect x="863" y="47" width="1" height="55" fill="#089981" />
<rect x="861" y="88" width="5" height="2" fill="#089981" />
<rect x="871" y="44" width="1" height="49" fill="#089981" />
<rect x="869" y="76" width="5" height="14" fill="#089981" />
<rect x="878" y="68" width="1" height="18" fill="#089981" />
<rect x="876" y="72" width="5" height="5" fill="#089981" />
<rect x="886" y="60" width="1" height="19" fill="#F23645" />
<rect x="884" y="72" width="5" height="4" fill="#F23645" />
<rect x="893" y="64" width="1" height="22" fill="#F23645" />
<rect x="891" y="75" width="5" height="5" fill="#F23645" />
<rect x="901" y="72" width="1" height="23" fill="#089981" />
<rect x="899" y="79" width="5" height="3" fill="#089981" />
<rect x="908" y="73" width="1" height="37" fill="#F23645" />
<rect x="906" y="80" width="5" height="29" fill="#F23645" />
<rect x="916" y="97" width="1" height="23" fill="#F23645" />
<rect x="914" y="108" width="5" height="3" fill="#F23645" />
<rect x="923" y="94" width="1" height="26" fill="#F23645" />
<rect x="921" y="110" width="5" height="6" fill="#F23645" />
<rect x="931" y="96" width="1" height="39" fill="#089981" />
<rect x="929" y="110" width="5" height="6" fill="#089981" />
<rect x="938" y="103" width="1" height="20" fill="#089981" />
<rect x="936" y="109" width="5" height="2" fill="#089981" />
<rect x="946" y="101" width="1" height="18" fill="#F23645" />
<rect x="944" y="109" width="5" height="4" fill="#F23645" />
<rect x="953" y="106" width="1" height="16" fill="#F23645" />
<rect x="951" y="112" width="5" height="8" fill="#F23645" />
<rect x="961" y="104" width="1" height="26" fill="#089981" />
<rect x="959" y="115" width="5" height="5" fill="#089981" />
<rect x="968" y="96" width="1" height="21" fill="#089981" />
<rect x="966" y="111" width="5" height="5" fill="#089981" />
<rect x="976" y="108" width="1" height="27" fill="#F23645" />
<rect x="974" y="108" width="5" height="23" fill="#F23645" />
<rect x="983" y="125" width="1" height="32" fill="#F23645" />
<rect x="981" y="130" width="5" height="24" fill="#F23645" />
<rect x="991" y="147" width="1" height="26" fill="#F23645" />
<rect x="989" y="153" width="5" height="11" fill="#F23645" />
<rect x="998" y="153" width="1" height="17" fill="#F23645" />
<rect x="996" y="163" width="5" height="1" fill="#F23645" />
<rect x="1006" y="157" width="1" height="15" fill="#089981" />
<rect x="1004" y="162" width="5" height="2" fill="#089981" />
<rect x="1013" y="152" width="1" height="27" fill="#F23645" />
<rect x="1011" y="162" width="5" height="17" fill="#F23645" />
<rect x="1021" y="160" width="1" height="23" fill="#089981" />
<rect x="1019" y="172" width="5" height="7" fill="#089981" />
<rect x="1028" y="148" width="1" height="28" fill="#089981" />
<rect x="1026" y="162" width="5" height="12" fill="#089981" />
<rect x="1036" y="155" width="1" height="28" fill="#F23645" />
<rect x="1034" y="162" width="5" height="2" fill="#F23645" />
<rect x="1043" y="159" width="1" height="14" fill="#F23645" />
<rect x="1041" y="163" width="5" height="9" fill="#F23645" />
<rect x="1051" y="150" width="1" height="23" fill="#089981" />
<rect x="1049" y="154" width="5" height="14" fill="#089981" />
<rect x="1058" y="148" width="1" height="18" fill="#089981" />
<rect x="1056" y="154" width="5" height="1" fill="#089981" />
<rect x="1066" y="138" width="1" height="29" fill="#F23645" />
<rect x="1064" y="154" width="5" height="10" fill="#F23645" />
<rect x="1073" y="150" width="1" height="26" fill="#089981" />
<rect x="1071" y="152" width="5" height="12" fill="#089981" />
<rect x="1081" y="143" width="1" height="41" fill="#F23645" />
<rect x="1079" y="152" width="5" height="28" fill="#F23645" />
<rect x="1088" y="176" width="1" height="17" fill="#F23645" />
<rect x="1086" y="180" width="5" height="7" fill="#F23645" />
<rect x="1096" y="175" width="1" height="15" fill="#089981" />
<rect x="1094" y="176" width="5" height="11" fill="#089981" />
<rect x="1103" y="158" width="1" height="20" fill="#089981" />
<rect x="1101" y="164" width="5" height="12" fill="#089981" />
<rect x="1111" y="158" width="1" height="18" fill="#F23645" />
<rect x="1109" y="164" width="5" height="8" fill="#F23645" />
<rect x="1118" y="144" width="1" height="28" fill="#089981" />
<rect x="1116" y="147" width="5" height="25" fill="#089981" />
<rect x="1126" y="147" width="1" height="13" fill="#F23645" />
<rect x="1124" y="152" width="5" height="4" fill="#F23645" />
<rect x="1133" y="152" width="1" height="36" fill="#F23645" />
<rect x="1131" y="155" width="5" height="30" fill="#F23645" />
<rect x="1141" y="170" width="1" height="17" fill="#089981" />
<rect x="1139" y="174" width="5" height="11" fill="#089981" />
<rect x="1148" y="157" width="1" height="19" fill="#089981" />
<rect x="1146" y="165" width="5" height="10" fill="#089981" />
<rect x="1156" y="153" width="1" height="23" fill="#089981" />
<rect x="1154" y="158" width="5" height="8" fill="#089981" />
<rect x="1163" y="147" width="1" height="12" fill="#089981" />
<rect x="1161" y="148" width="5" height="10" fill="#089981" />
<rect x="1171" y="131" width="1" height="25" fill="#089981" />
<rect x="1169" y="140" width="5" height="9" fill="#089981" />
<rect x="1178" y="128" width="1" height="23" fill="#089981" />
<rect x="1176" y="136" width="5" height="5" fill="#089981" />
<rect x="1186" y="120" width="1" height="19" fill="#089981" />
<rect x="1184" y="128" width="5" height="9" fill="#089981" />
<rect x="1193" y="123" width="1" height="13" fill="#F23645" />
<rect x="1191" y="128" width="5" height="2" fill="#F23645" />
<rect x="1201" y="127" width="1" height="16" fill="#F23645" />
<rect x="1199" y="132" width="5" height="8" fill="#F23645" />
<rect x="1208" y="136" width="1" height="11" fill="#F23645" />
<rect x="1206" y="139" width="5" height="3" fill="#F23645" />
<rect x="1216" y="136" width="1" height="39" fill="#F23645" />
<rect x="1214" y="141" width="5" height="29" fill="#F23645" />
<rect x="1223" y="163" width="1" height="13" fill="#F23645" />
<rect x="1221" y="170" width="5" height="4" fill="#F23645" />
<rect x="1231" y="163" width="1" height="13" fill="#089981" />
<rect x="1229" y="165" width="5" height="9" fill="#089981" />
<rect x="1238" y="163" width="1" height="10" fill="#F23645" />
<rect x="1236" y="167" width="5" height="4" fill="#F23645" />
<rect x="1246" y="165" width="1" height="15" fill="#F23645" />
<rect x="1244" y="170" width="5" height="4" fill="#F23645" />
<rect x="1253" y="150" width="1" height="30" fill="#089981" />
<rect x="1251" y="156" width="5" height="18" fill="#089981" />
<rect x="1261" y="137" width="1" height="21" fill="#089981" />
<rect x="1259" y="138" width="5" height="19" fill="#089981" />
<rect x="1268" y="121" width="1" height="22" fill="#089981" />
<rect x="1266" y="138" width="5" height="1" fill="#089981" />
<rect x="1276" y="134" width="1" height="10" fill="#F23645" />
<rect x="1274" y="138" width="5" height="3" fill="#F23645" />
<rect x="1283" y="131" width="1" height="22" fill="#F23645" />
<rect x="1281" y="140" width="5" height="8" fill="#F23645" />
<rect x="1291" y="139" width="1" height="12" fill="#089981" />
<rect x="1289" y="145" width="5" height="4" fill="#089981" />
<rect x="1298" y="137" width="1" height="22" fill="#F23645" />
<rect x="1296" y="145" width="5" height="12" fill="#F23645" />
<rect x="1306" y="154" width="1" height="22" fill="#F23645" />
<rect x="1304" y="156" width="5" height="19" fill="#F23645" />
<rect x="1313" y="167" width="1" height="9" fill="#F23645" />
<rect x="1311" y="172" width="5" height="3" fill="#F23645" />
<rect x="1321" y="171" width="1" height="23" fill="#F23645" />
<rect x="1319" y="174" width="5" height="14" fill="#F23645" />
<rect x="1328" y="173" width="1" height="25" fill="#089981" />
<rect x="1326" y="175" width="5" height="13" fill="#089981" />
<rect x="1336" y="165" width="1" height="28" fill="#F23645" />
<rect x="1334" y="175" width="5" height="16" fill="#F23645" />
<rect x="1343" y="187" width="1" height="25" fill="#F23645" />
<rect x="1341" y="190" width="5" height="21" fill="#F23645" />
<rect x="1351" y="202" width="1" height="11" fill="#F23645" />
<rect x="1349" y="205" width="5" height="2" fill="#F23645" />
<rect x="1358" y="195" width="1" height="15" fill="#089981" />
<rect x="1356" y="206" width="5" height="1" fill="#089981" />
<rect x="1366" y="202" width="1" height="11" fill="#089981" />
<rect x="1364" y="206" width="5" height="1" fill="#089981" />
<rect x="1373" y="205" width="1" height="20" fill="#F23645" />
<rect x="1371" y="206" width="5" height="14" fill="#F23645" />
<rect x="1381" y="212" width="1" height="12" fill="#F23645" />
<rect x="1379" y="218" width="5" height="6" fill="#F23645" />
<rect x="1388" y="210" width="1" height="22" fill="#F23645" />
<rect x="1386" y="216" width="5" height="11" fill="#F23645" />
<rect x="1396" y="218" width="1" height="12" fill="#089981" />
<rect x="1394" y="219" width="5" height="8" fill="#089981" />
<rect x="1403" y="203" width="1" height="24" fill="#089981" />
<rect x="1401" y="205" width="5" height="15" fill="#089981" />
<rect x="1411" y="189" width="1" height="21" fill="#089981" />
<rect x="1409" y="198" width="5" height="7" fill="#089981" />
<rect x="1418" y="195" width="1" height="19" fill="#F23645" />
<rect x="1416" y="198" width="5" height="6" fill="#F23645" />
<rect x="1426" y="192" width="1" height="16" fill="#089981" />
<rect x="1424" y="195" width="5" height="10" fill="#089981" />
<rect x="1433" y="177" width="1" height="19" fill="#089981" />
<rect x="1431" y="184" width="5" height="11" fill="#089981" />
<rect x="1441" y="176" width="1" height="45" fill="#F23645" />
<rect x="1439" y="184" width="5" height="35" fill="#F23645" />
<rect x="1448" y="202" width="1" height="18" fill="#089981" />
<rect x="1446" y="209" width="5" height="10" fill="#089981" />
<rect x="1456" y="203" width="1" height="31" fill="#F23645" />
<rect x="1454" y="209" width="5" height="8" fill="#F23645" />
<rect x="1463" y="226" width="1" height="22" fill="#F23645" />
<rect x="1461" y="231" width="5" height="16" fill="#F23645" />
<rect x="1471" y="244" width="1" height="16" fill="#F23645" />
<rect x="1469" y="246" width="5" height="11" fill="#F23645" />
<rect x="1478" y="237" width="1" height="26" fill="#089981" />
<rect x="1476" y="241" width="5" height="16" fill="#089981" />
<rect x="1486" y="230" width="1" height="29" fill="#F23645" />
<rect x="1484" y="241" width="5" height="6" fill="#F23645" />
<rect x="1493" y="245" width="1" height="22" fill="#F23645" />
<rect x="1491" y="247" width="5" height="8" fill="#F23645" />
<rect x="1501" y="236" width="1" height="18" fill="#089981" />
<rect x="1499" y="240" width="5" height="13" fill="#089981" />
<rect x="1508" y="229" width="1" height="19" fill="#089981" />
<rect x="1506" y="235" width="5" height="6" fill="#089981" />
</g>
</g>
<g>
<rect x="14" y="355.5" width="1573" height="109" fill="#7E57C2" fill-opacity="0.11"/>
<path d="M14,355.6H1587" stroke="#787B86" stroke-width="1.2" stroke-dasharray="5.3 5.7" stroke-dashoffset="1" fill="none"/>
<path d="M14,409.5H1587" stroke="#787B86" stroke-width="1.2" stroke-dasharray="5.3 5.7" stroke-dashoffset="1" fill="none"/>
<path d="M14,464.4H1587" stroke="#787B86" stroke-width="1.2" stroke-dasharray="5.3 5.7" stroke-dashoffset="1" fill="none"/>
<path d="M13.5,390.5 L16.0,392.0 L23.5,400.7 L31.0,418.3 L38.5,408.3 L46.0,403.7 L53.5,407.8 L61.0,415.3 L68.5,423.8 L76.0,406.5 L83.5,422.8 L91.0,437.1 L98.5,437.4 L106.0,435.3 L113.5,427.8 L121.0,437.9 L128.5,441.4 L136.0,448.4 L143.5,455.9 L151.0,457.4 L158.5,462.4 L166.0,464.9 L173.5,467.2 L181.0,468.4 L188.5,464.2 L196.0,454.9 L203.5,437.4 L211.0,453.4 L218.5,458.2 L226.0,454.7 L233.5,426.3 L241.0,431.1 L248.5,426.6 L256.0,433.3 L263.5,435.3 L271.0,451.9 L278.5,454.7 L286.0,453.7 L293.5,449.1 L301.0,429.6 L308.5,435.1 L316.0,427.6 L323.5,430.3 L331.0,435.8 L338.5,424.8 L346.0,414.8 L353.5,418.3 L361.0,417.3 L368.5,401.5 L376.0,398.7 L383.5,410.3 L391.0,422.1 L398.5,401.5 L406.0,387.7 L413.5,411.5 L421.0,425.8 L428.5,423.1 L436.0,400.7 L443.5,393.5 L451.0,380.2 L458.5,373.4 L466.0,385.9 L473.5,421.6 L481.0,432.1 L488.5,418.5 L496.0,427.8 L503.5,437.9 L511.0,440.1 L518.5,444.6 L526.0,437.9 L533.5,438.4 L541.0,449.9 L548.5,441.4 L556.0,444.1 L563.5,429.1 L571.0,434.8 L578.5,425.3 L586.0,404.0 L593.5,375.2 L601.0,388.2 L608.5,398.5 L616.0,406.3 L623.5,409.8 L631.0,412.8 L638.5,415.8 L646.0,378.2 L653.5,375.7 L661.0,394.7 L668.5,389.7 L676.0,377.2 L683.5,374.7 L691.0,385.4 L698.5,379.2 L706.0,370.2 L713.5,367.1 L721.0,360.6 L728.5,356.1 L736.0,355.4 L743.5,346.3 L751.0,363.1 L758.5,379.4 L766.0,376.7 L773.5,368.6 L781.0,388.7 L788.5,387.7 L796.0,386.2 L803.5,366.9 L811.0,365.4 L818.5,365.4 L826.0,367.1 L833.5,353.1 L841.0,360.9 L848.5,351.6 L856.0,351.3 L863.5,350.6 L871.0,343.6 L878.5,341.6 L886.0,346.8 L893.5,352.3 L901.0,352.6 L908.5,393.2 L916.0,396.2 L923.5,402.7 L931.0,396.7 L938.5,395.7 L946.0,401.0 L953.5,409.5 L961.0,404.0 L968.5,398.7 L976.0,422.8 L983.5,445.4 L991.0,453.2 L998.5,453.4 L1006.0,451.6 L1013.5,463.4 L1021.0,455.4 L1028.5,438.4 L1036.0,440.4 L1043.5,447.4 L1051.0,423.1 L1058.5,423.1 L1066.0,432.1 L1073.5,417.8 L1081.0,442.9 L1088.5,448.6 L1096.0,434.1 L1103.5,421.3 L1111.0,427.1 L1118.5,402.7 L1126.0,410.3 L1133.5,434.3 L1141.0,424.1 L1148.5,416.0 L1156.0,409.0 L1163.5,400.2 L1171.0,393.7 L1178.5,389.7 L1186.0,383.4 L1193.5,384.9 L1201.0,396.7 L1208.5,399.0 L1216.0,427.3 L1223.5,430.6 L1231.0,421.3 L1238.5,425.8 L1246.0,429.6 L1253.5,407.8 L1261.0,392.2 L1268.5,392.0 L1276.0,394.2 L1283.5,403.5 L1291.0,400.7 L1298.5,414.0 L1306.0,432.1 L1313.5,432.1 L1321.0,443.6 L1328.5,428.6 L1336.0,442.1 L1343.5,456.2 L1351.0,450.6 L1358.5,450.1 L1366.0,450.4 L1373.5,459.9 L1381.0,462.9 L1388.5,465.4 L1396.0,452.9 L1403.5,431.6 L1411.0,422.1 L1418.5,427.3 L1426.0,416.5 L1433.5,403.2 L1441.0,436.8 L1448.5,426.6 L1456.0,432.3 L1463.5,453.9 L1471.0,459.7 L1478.5,442.9 L1486.0,446.4 L1493.5,450.9 L1501.0,435.1 L1508.5,428.8" fill="none" stroke="#7E57C2" stroke-width="1.25" stroke-linejoin="round" stroke-linecap="round" />
</g>
<g shape-rendering="crispEdges">
<rect x="14" y="556" width="5" height="8" fill="#B2DFDB" />
<rect x="20" y="561" width="6" height="2" fill="#B2DFDB" />
<rect x="28" y="563" width="6" height="7" fill="#FF5252" />
<rect x="35" y="563" width="6" height="9" fill="#FF5252" />
<rect x="43" y="563" width="6" height="10" fill="#FF5252" />
<rect x="50" y="563" width="6" height="11" fill="#FF5252" />
<rect x="58" y="563" width="6" height="13" fill="#FF5252" />
<rect x="65" y="563" width="6" height="15" fill="#FF5252" />
<rect x="73" y="563" width="6" height="13" fill="#FFCDD2" />
<rect x="80" y="563" width="6" height="13" fill="#FF5252" />
<rect x="88" y="563" width="6" height="19" fill="#FF5252" />
<rect x="95" y="563" width="6" height="21" fill="#FF5252" />
<rect x="103" y="563" width="6" height="20" fill="#FFCDD2" />
<rect x="110" y="563" width="6" height="18" fill="#FFCDD2" />
<rect x="118" y="563" width="6" height="18" fill="#FFCDD2" />
<rect x="125" y="563" width="6" height="18" fill="#FFCDD2" />
<rect x="133" y="563" width="6" height="19" fill="#FF5252" />
<rect x="140" y="563" width="6" height="20" fill="#FF5252" />
<rect x="148" y="563" width="6" height="20" fill="#FF5252" />
<rect x="155" y="563" width="6" height="20" fill="#FF5252" />
<rect x="163" y="563" width="6" height="20" fill="#FFCDD2" />
<rect x="170" y="563" width="6" height="19" fill="#FFCDD2" />
<rect x="178" y="563" width="6" height="18" fill="#FFCDD2" />
<rect x="185" y="563" width="6" height="15" fill="#FFCDD2" />
<rect x="193" y="563" width="6" height="11" fill="#FFCDD2" />
<rect x="200" y="563" width="6" height="6" fill="#FFCDD2" />
<rect x="208" y="563" width="6" height="5" fill="#FFCDD2" />
<rect x="215" y="563" width="6" height="5" fill="#FFCDD2" />
<rect x="223" y="563" width="6" height="3" fill="#FFCDD2" />
<rect x="230" y="561" width="6" height="2" fill="#26A69A" />
<rect x="238" y="559" width="6" height="4" fill="#26A69A" />
<rect x="245" y="556" width="6" height="8" fill="#26A69A" />
<rect x="253" y="556" width="6" height="8" fill="#26A69A" />
<rect x="260" y="556" width="6" height="8" fill="#B2DFDB" />
<rect x="268" y="559" width="6" height="4" fill="#B2DFDB" />
<rect x="275" y="562" width="6" height="2" fill="#B2DFDB" />
<rect x="283" y="563" width="6" height="1" fill="#B2DFDB" />
<rect x="290" y="562" width="6" height="2" fill="#26A69A" />
<rect x="298" y="560" width="6" height="4" fill="#26A69A" />
<rect x="305" y="559" width="6" height="4" fill="#26A69A" />
<rect x="313" y="557" width="6" height="6" fill="#26A69A" />
<rect x="320" y="557" width="6" height="6" fill="#26A69A" />
<rect x="328" y="557" width="6" height="6" fill="#B2DFDB" />
<rect x="335" y="556" width="6" height="8" fill="#26A69A" />
<rect x="343" y="555" width="6" height="8" fill="#26A69A" />
<rect x="350" y="554" width="6" height="10" fill="#26A69A" />
<rect x="358" y="554" width="6" height="10" fill="#26A69A" />
<rect x="365" y="553" width="6" height="10" fill="#26A69A" />
<rect x="373" y="552" width="6" height="12" fill="#26A69A" />
<rect x="380" y="553" width="6" height="10" fill="#B2DFDB" />
<rect x="388" y="555" width="6" height="8" fill="#B2DFDB" />
<rect x="395" y="554" width="6" height="10" fill="#26A69A" />
<rect x="403" y="553" width="6" height="10" fill="#26A69A" />
<rect x="410" y="555" width="6" height="8" fill="#B2DFDB" />
<rect x="418" y="558" width="6" height="6" fill="#B2DFDB" />
<rect x="425" y="560" width="6" height="4" fill="#B2DFDB" />
<rect x="433" y="559" width="6" height="4" fill="#26A69A" />
<rect x="440" y="557" width="6" height="6" fill="#26A69A" />
<rect x="448" y="554" width="6" height="10" fill="#26A69A" />
<rect x="455" y="551" width="6" height="12" fill="#26A69A" />
<rect x="463" y="552" width="6" height="12" fill="#B2DFDB" />
<rect x="470" y="558" width="6" height="6" fill="#B2DFDB" />
<rect x="478" y="563" width="6" height="2" fill="#FF5252" />
<rect x="485" y="563" width="6" height="4" fill="#FF5252" />
<rect x="493" y="563" width="6" height="7" fill="#FF5252" />
<rect x="500" y="563" width="6" height="10" fill="#FF5252" />
<rect x="508" y="563" width="6" height="13" fill="#FF5252" />
<rect x="515" y="563" width="6" height="15" fill="#FF5252" />
<rect x="523" y="563" width="6" height="13" fill="#FFCDD2" />
<rect x="530" y="563" width="6" height="13" fill="#FFCDD2" />
<rect x="538" y="563" width="6" height="14" fill="#FF5252" />
<rect x="545" y="563" width="6" height="13" fill="#FFCDD2" />
<rect x="553" y="563" width="6" height="12" fill="#FFCDD2" />
<rect x="560" y="563" width="6" height="9" fill="#FFCDD2" />
<rect x="568" y="563" width="6" height="7" fill="#FFCDD2" />
<rect x="575" y="563" width="6" height="5" fill="#FFCDD2" />
<rect x="583" y="561" width="6" height="2" fill="#26A69A" />
<rect x="590" y="552" width="6" height="12" fill="#26A69A" />
<rect x="598" y="549" width="6" height="14" fill="#26A69A" />
<rect x="605" y="549" width="6" height="14" fill="#B2DFDB" />
<rect x="613" y="551" width="6" height="12" fill="#B2DFDB" />
<rect x="620" y="554" width="6" height="10" fill="#B2DFDB" />
<rect x="628" y="556" width="6" height="8" fill="#B2DFDB" />
<rect x="635" y="559" width="6" height="4" fill="#B2DFDB" />
<rect x="643" y="553" width="6" height="10" fill="#26A69A" />
<rect x="650" y="549" width="6" height="14" fill="#26A69A" />
<rect x="658" y="551" width="6" height="12" fill="#B2DFDB" />
<rect x="665" y="551" width="6" height="12" fill="#B2DFDB" />
<rect x="673" y="549" width="6" height="14" fill="#26A69A" />
<rect x="680" y="548" width="6" height="16" fill="#26A69A" />
<rect x="688" y="550" width="6" height="14" fill="#B2DFDB" />
<rect x="695" y="551" width="6" height="12" fill="#B2DFDB" />
<rect x="703" y="550" width="6" height="14" fill="#26A69A" />
<rect x="710" y="549" width="6" height="14" fill="#26A69A" />
<rect x="718" y="548" width="6" height="16" fill="#26A69A" />
<rect x="725" y="547" width="6" height="16" fill="#26A69A" />
<rect x="733" y="548" width="6" height="16" fill="#B2DFDB" />
<rect x="740" y="547" width="6" height="16" fill="#26A69A" />
<rect x="748" y="549" width="6" height="14" fill="#B2DFDB" />
<rect x="755" y="554" width="6" height="10" fill="#B2DFDB" />
<rect x="763" y="558" width="6" height="6" fill="#B2DFDB" />
<rect x="770" y="559" width="6" height="4" fill="#B2DFDB" />
<rect x="778" y="563" width="6" height="1" fill="#B2DFDB" />
<rect x="785" y="563" width="6" height="4" fill="#FF5252" />
<rect x="793" y="563" width="6" height="6" fill="#FF5252" />
<rect x="800" y="563" width="6" height="3" fill="#FFCDD2" />
<rect x="808" y="563" width="6" height="1" fill="#26A69A" />
<rect x="815" y="562" width="6" height="2" fill="#26A69A" />
<rect x="823" y="563" width="6" height="1" fill="#B2DFDB" />
<rect x="830" y="560" width="6" height="4" fill="#26A69A" />
<rect x="838" y="560" width="6" height="4" fill="#26A69A" />
<rect x="845" y="558" width="6" height="6" fill="#26A69A" />
<rect x="853" y="558" width="6" height="6" fill="#26A69A" />
<rect x="860" y="558" width="6" height="6" fill="#B2DFDB" />
<rect x="868" y="557" width="6" height="6" fill="#26A69A" />
<rect x="875" y="557" width="6" height="6" fill="#26A69A" />
<rect x="883" y="558" width="6" height="6" fill="#B2DFDB" />
<rect x="890" y="560" width="6" height="4" fill="#B2DFDB" />
<rect x="898" y="562" width="6" height="2" fill="#B2DFDB" />
<rect x="905" y="563" width="6" height="6" fill="#FF5252" />
<rect x="913" y="563" width="6" height="11" fill="#FF5252" />
<rect x="920" y="563" width="6" height="14" fill="#FF5252" />
<rect x="928" y="563" width="6" height="15" fill="#FF5252" />
<rect x="935" y="563" width="6" height="16" fill="#FF5252" />
<rect x="943" y="563" width="6" height="16" fill="#FF5252" />
<rect x="950" y="563" width="6" height="17" fill="#FF5252" />
<rect x="958" y="563" width="6" height="17" fill="#FFCDD2" />
<rect x="965" y="563" width="6" height="15" fill="#FFCDD2" />
<rect x="973" y="563" width="6" height="17" fill="#FF5252" />
<rect x="980" y="563" width="6" height="20" fill="#FF5252" />
<rect x="988" y="563" width="6" height="23" fill="#FF5252" />
<rect x="995" y="563" width="6" height="24" fill="#FF5252" />
<rect x="1003" y="563" width="6" height="23" fill="#FFCDD2" />
<rect x="1010" y="563" width="6" height="24" fill="#FF5252" />
<rect x="1018" y="563" width="6" height="23" fill="#FFCDD2" />
<rect x="1025" y="563" width="6" height="19" fill="#FFCDD2" />
<rect x="1033" y="563" width="6" height="16" fill="#FFCDD2" />
<rect x="1040" y="563" width="6" height="14" fill="#FFCDD2" />
<rect x="1048" y="563" width="6" height="10" fill="#FFCDD2" />
<rect x="1055" y="563" width="6" height="7" fill="#FFCDD2" />
<rect x="1063" y="563" width="6" height="6" fill="#FFCDD2" />
<rect x="1070" y="563" width="6" height="3" fill="#FFCDD2" />
<rect x="1078" y="563" width="6" height="5" fill="#FF5252" />
<rect x="1085" y="563" width="6" height="6" fill="#FF5252" />
<rect x="1093" y="563" width="6" height="6" fill="#FFCDD2" />
<rect x="1100" y="563" width="6" height="3" fill="#FFCDD2" />
<rect x="1108" y="563" width="6" height="2" fill="#FFCDD2" />
<rect x="1115" y="560" width="6" height="4" fill="#26A69A" />
<rect x="1123" y="558" width="6" height="6" fill="#26A69A" />
<rect x="1130" y="562" width="6" height="2" fill="#B2DFDB" />
<rect x="1138" y="562" width="6" height="2" fill="#B2DFDB" />
<rect x="1145" y="561" width="6" height="2" fill="#26A69A" />
<rect x="1153" y="559" width="6" height="4" fill="#26A69A" />
<rect x="1160" y="557" width="6" height="6" fill="#26A69A" />
<rect x="1168" y="554" width="6" height="10" fill="#26A69A" />
<rect x="1175" y="553" width="6" height="10" fill="#26A69A" />
<rect x="1183" y="551" width="6" height="12" fill="#26A69A" />
<rect x="1190" y="551" width="6" height="12" fill="#26A69A" />
<rect x="1198" y="552" width="6" height="12" fill="#B2DFDB" />
<rect x="1205" y="555" width="6" height="8" fill="#B2DFDB" />
<rect x="1213" y="560" width="6" height="4" fill="#B2DFDB" />
<rect x="1220" y="563" width="6" height="2" fill="#FF5252" />
<rect x="1228" y="563" width="6" height="4" fill="#FF5252" />
<rect x="1235" y="563" width="6" height="5" fill="#FF5252" />
<rect x="1243" y="563" width="6" height="6" fill="#FF5252" />
<rect x="1250" y="563" width="6" height="3" fill="#FFCDD2" />
<rect x="1258" y="563" width="6" height="1" fill="#26A69A" />
<rect x="1265" y="560" width="6" height="4" fill="#26A69A" />
<rect x="1273" y="559" width="6" height="4" fill="#26A69A" />
<rect x="1280" y="560" width="6" height="4" fill="#B2DFDB" />
<rect x="1288" y="561" width="6" height="2" fill="#B2DFDB" />
<rect x="1295" y="562" width="6" height="2" fill="#B2DFDB" />
<rect x="1303" y="563" width="6" height="4" fill="#FF5252" />
<rect x="1310" y="563" width="6" height="6" fill="#FF5252" />
<rect x="1318" y="563" width="6" height="9" fill="#FF5252" />
<rect x="1325" y="563" width="6" height="9" fill="#FFCDD2" />
<rect x="1333" y="563" width="6" height="10" fill="#FF5252" />
<rect x="1340" y="563" width="6" height="14" fill="#FF5252" />
<rect x="1348" y="563" width="6" height="15" fill="#FF5252" />
<rect x="1355" y="563" width="6" height="14" fill="#FFCDD2" />
<rect x="1363" y="563" width="6" height="13" fill="#FFCDD2" />
<rect x="1370" y="563" width="6" height="13" fill="#FF5252" />
<rect x="1378" y="563" width="6" height="13" fill="#FFCDD2" />
<rect x="1385" y="563" width="6" height="13" fill="#FFCDD2" />
<rect x="1393" y="563" width="6" height="11" fill="#FFCDD2" />
<rect x="1400" y="563" width="6" height="7" fill="#FFCDD2" />
<rect x="1408" y="563" width="6" height="3" fill="#FFCDD2" />
<rect x="1415" y="563" width="6" height="1" fill="#26A69A" />
<rect x="1423" y="560" width="6" height="4" fill="#26A69A" />
<rect x="1430" y="556" width="6" height="8" fill="#26A69A" />
<rect x="1438" y="559" width="6" height="4" fill="#B2DFDB" />
<rect x="1445" y="560" width="6" height="4" fill="#B2DFDB" />
<rect x="1453" y="561" width="6" height="2" fill="#B2DFDB" />
<rect x="1460" y="563" width="6" height="4" fill="#FF5252" />
<rect x="1468" y="563" width="6" height="8" fill="#FF5252" />
<rect x="1475" y="563" width="6" height="8" fill="#FFCDD2" />
<rect x="1483" y="563" width="6" height="8" fill="#FF5252" />
<rect x="1490" y="563" width="6" height="8" fill="#FF5252" />
<rect x="1498" y="563" width="6" height="6" fill="#FFCDD2" />
<rect x="1505" y="563" width="6" height="3" fill="#FFCDD2" />
</g>
<path d="M13.8,531.7 L23.3,530.7 L30.8,531.9 L38.4,533.9 L45.9,535.9 L53.4,538.5 L60.9,541.2 L68.5,544.4 L76.0,547.7 L83.5,551.0 L91.0,555.2 L98.5,560.2 L106.1,565.8 L113.6,570.3 L121.1,574.8 L128.6,578.8 L136.2,582.8 L143.7,587.2 L151.2,591.6 L158.7,596.3 L166.2,601.1 L173.8,605.2 L181.3,609.1 L187.0,611.6 L193.1,613.7 L203.9,615.7 L211.4,616.6 L218.9,617.4 L225.7,617.7 L233.0,617.2 L240.7,616.2 L248.5,614.0 L256.3,611.6 L263.8,610.2 L271.3,609.1 L278.8,608.5 L286.4,608.1 L293.9,607.6 L301.4,606.9 L308.9,605.6 L316.4,604.1 L324.0,602.7 L331.5,601.1 L339.0,599.2 L346.5,597.1 L354.0,594.8 L361.6,592.3 L369.1,589.5 L376.6,586.6 L384.1,584.1 L391.7,581.6 L399.0,579.2 L406.2,576.5 L413.5,574.8 L421.0,573.8 L428.3,572.8 L436.0,571.4 L443.4,569.8 L450.9,567.3 L458.2,564.5 L465.7,561.7 L473.2,560.5 L480.7,560.5 L488.3,561.2 L495.8,562.7 L503.3,565.3 L510.8,568.8 L518.4,572.3 L525.9,575.8 L533.4,579.0 L540.7,582.3 L548.2,584.8 L555.7,586.8 L563.2,588.3 L570.8,589.1 L578.3,589.6 L585.8,588.8 L593.1,586.3 L600.6,582.8 L608.1,579.5 L615.6,576.5 L623.2,574.3 L630.7,572.3 L638.2,570.8 L645.7,567.8 L653.3,564.0 L660.8,560.7 L668.3,557.2 L675.8,553.5 L683.1,549.5 L690.6,545.7 L698.1,542.7 L705.7,538.9 L713.2,535.2 L720.7,530.9 L728.2,526.9 L735.8,523.1 L743.0,519.6 L750.5,516.9 L758.1,515.1 L765.6,513.6 L773.1,512.8 L780.6,512.8 L788.2,513.4 L796.0,514.4 L803.5,514.6 L811.1,514.4 L818.6,514.1 L825.9,513.9 L833.4,512.8 L840.9,511.8 L848.4,510.3 L855.9,509.1 L863.2,507.6 L870.7,506.1 L878.3,504.6 L885.8,503.3 L893.3,502.6 L900.6,502.6 L908.1,503.8 L915.6,506.6 L923.1,510.1 L930.7,513.9 L938.2,517.6 L945.7,521.9 L953.2,525.9 L960.8,529.4 L968.0,532.7 L975.6,536.2 L983.1,541.2 L990.6,547.2 L998.1,552.7 L1005.6,558.0 L1013.2,562.7 L1020.7,567.8 L1028.2,572.0 L1035.7,575.8 L1043.3,578.5 L1050.8,580.5 L1058.3,582.1 L1065.6,583.1 L1073.1,583.3 L1080.6,584.1 L1088.1,585.3 L1095.7,586.3 L1103.2,586.8 L1110.7,586.8 L1118.2,585.8 L1125.8,584.6 L1133.0,584.1 L1140.6,583.6 L1148.1,583.1 L1155.6,582.1 L1163.1,580.3 L1170.6,578.0 L1178.2,575.3 L1185.7,571.8 L1193.2,568.3 L1200.7,565.3 L1208.3,563.2 L1215.9,563.2 L1223.4,563.2 L1230.9,564.0 L1238.4,565.3 L1245.9,566.5 L1253.2,567.0 L1260.7,566.8 L1268.3,566.0 L1275.8,564.8 L1283.3,563.7 L1290.8,562.7 L1298.4,562.2 L1305.9,562.7 L1313.1,563.7 L1320.7,565.8 L1328.2,567.8 L1335.7,570.3 L1343.2,573.5 L1350.8,576.5 L1358.3,579.5 L1365.8,582.6 L1373.1,585.3 L1380.6,588.3 L1388.1,591.1 L1395.6,593.3 L1403.2,594.8 L1410.7,595.3 L1418.2,594.8 L1425.7,593.8 L1433.3,592.1 L1440.8,590.8 L1448.3,589.8 L1455.6,589.1 L1463.1,589.8 L1470.6,591.6 L1478.1,593.3 L1485.7,595.1 L1493.2,596.8 L1500.7,597.9 L1508.2,598.4" fill="none" stroke="#FF6D00" stroke-width="1.25" stroke-linejoin="round" stroke-linecap="round" />
<path d="M13.8,522.6 L23.3,528.1 L30.8,537.2 L38.4,541.9 L45.9,544.7 L53.4,547.7 L60.9,552.2 L68.5,558.0 L76.0,558.7 L83.5,562.7 L91.0,572.8 L98.5,579.5 L106.1,584.1 L113.6,585.8 L121.1,589.8 L128.6,593.3 L136.2,597.9 L143.7,603.6 L151.2,608.4 L158.7,613.4 L166.2,617.9 L173.8,621.7 L181.3,624.2 L188.8,624.9 L196.3,623.7 L203.9,619.7 L211.4,619.9 L218.9,620.7 L225.7,620.2 L233.7,614.9 L241.2,611.4 L248.7,606.6 L256.3,604.4 L263.3,602.9 L271.3,604.9 L278.8,606.6 L286.4,607.6 L293.4,607.1 L301.4,603.6 L308.9,601.6 L316.4,598.6 L324.0,596.6 L331.5,595.3 L339.0,592.3 L346.5,588.6 L354.1,585.8 L361.6,583.3 L369.1,579.0 L376.6,575.3 L384.2,573.5 L391.7,573.3 L399.2,570.8 L406.3,566.0 L413.5,566.3 L421.0,569.0 L428.3,570.3 L435.9,567.8 L443.4,564.8 L450.9,559.7 L458.2,552.7 L465.7,550.2 L473.2,554.7 L480.7,561.5 L488.3,563.2 L495.8,567.0 L503.3,573.3 L510.8,579.0 L518.4,584.3 L525.9,586.8 L533.4,588.8 L540.7,592.8 L548.2,594.8 L555.7,596.1 L563.2,595.1 L570.8,594.8 L578.3,592.8 L585.8,586.6 L593.1,575.3 L600.6,568.5 L608.1,565.3 L615.6,564.3 L623.2,564.0 L630.7,564.8 L638.2,566.0 L645.7,556.0 L653.3,549.7 L660.8,548.5 L668.3,546.4 L675.8,541.4 L683.1,536.2 L690.6,534.4 L698.1,532.2 L705.7,527.6 L713.2,523.4 L720.7,518.4 L728.2,513.6 L735.8,510.1 L743.0,504.6 L750.5,503.8 L758.1,506.3 L765.6,508.3 L773.1,508.6 L780.6,512.1 L788.2,515.6 L796.0,518.6 L803.5,515.9 L811.1,514.1 L818.6,513.1 L825.9,513.1 L833.4,509.8 L840.9,508.3 L848.4,505.3 L855.9,503.8 L863.2,502.8 L870.7,500.1 L878.3,498.6 L885.8,498.6 L893.3,499.6 L900.6,502.1 L908.1,509.3 L915.6,515.9 L923.1,522.1 L930.7,526.9 L938.2,530.9 L945.7,535.2 L953.2,539.7 L960.8,542.7 L968.0,544.7 L975.6,550.2 L983.1,558.5 L990.6,566.5 L998.1,572.8 L1005.6,577.8 L1013.2,584.1 L1020.7,588.3 L1028.2,589.1 L1035.7,589.8 L1043.3,591.1 L1050.8,589.1 L1058.3,587.1 L1065.6,586.8 L1073.1,584.6 L1080.6,587.3 L1088.1,590.1 L1095.7,590.1 L1103.2,588.3 L1110.7,587.3 L1118.2,582.1 L1125.8,579.5 L1133.0,582.3 L1140.6,582.6 L1148.1,581.3 L1155.6,578.5 L1163.1,574.5 L1170.6,569.5 L1178.2,564.5 L1185.7,559.0 L1193.2,555.7 L1200.7,554.7 L1208.3,554.7 L1215.9,559.7 L1223.4,564.5 L1230.9,566.8 L1238.4,568.8 L1245.9,571.0 L1253.2,569.8 L1260.7,565.8 L1268.3,562.7 L1275.8,560.7 L1283.3,559.7 L1290.8,558.7 L1298.4,560.2 L1305.9,564.0 L1313.1,567.8 L1320.7,572.8 L1328.2,574.5 L1335.7,578.3 L1343.2,584.8 L1350.8,588.6 L1358.3,591.6 L1365.8,593.6 L1373.1,596.8 L1380.6,599.9 L1388.1,602.6 L1395.6,602.6 L1403.2,599.6 L1410.7,595.8 L1418.2,593.6 L1425.7,589.8 L1433.3,584.8 L1440.8,586.6 L1448.3,586.3 L1455.6,586.8 L1463.1,592.8 L1470.6,598.4 L1478.1,599.9 L1485.7,601.6 L1493.2,603.6 L1500.7,602.4 L1508.2,599.9" fill="none" stroke="#2196F3" stroke-width="1.25" stroke-linejoin="round" stroke-linecap="round" />
<text x="22.8" y="37.8" fill="#131722" font-size="15.5" font-weight="normal" text-anchor="start" textLength="121.9" lengthAdjust="spacingAndGlyphs" >NZD/USD Spot, 1D</text>
<text x="154.8" y="37.8" fill="#131722" font-size="15.5" font-weight="normal" text-anchor="start" textLength="9.3" lengthAdjust="spacingAndGlyphs" >O</text>
<text x="164.8" y="37.8" fill="#089981" font-size="15.5" font-weight="normal" text-anchor="start" textLength="44" lengthAdjust="spacingAndGlyphs" >0.5919</text>
<text x="219.3" y="37.8" fill="#131722" font-size="15.5" font-weight="normal" text-anchor="start" textLength="8.2" lengthAdjust="spacingAndGlyphs" >H</text>
<text x="228.4" y="37.8" fill="#089981" font-size="15.5" font-weight="normal" text-anchor="start" textLength="43.8" lengthAdjust="spacingAndGlyphs" >0.5949</text>
<text x="282.8" y="37.8" fill="#131722" font-size="15.5" font-weight="normal" text-anchor="start" textLength="6.2" lengthAdjust="spacingAndGlyphs" >L</text>
<text x="289.7" y="37.8" fill="#089981" font-size="15.5" font-weight="normal" text-anchor="start" textLength="43.8" lengthAdjust="spacingAndGlyphs" >0.5902</text>
<text x="343.7" y="37.8" fill="#131722" font-size="15.5" font-weight="normal" text-anchor="start" textLength="8.3" lengthAdjust="spacingAndGlyphs" >C</text>
<text x="352.5" y="37.8" fill="#089981" font-size="15.5" font-weight="normal" text-anchor="start" textLength="44.2" lengthAdjust="spacingAndGlyphs" >0.5934</text>
<text x="407" y="37.8" fill="#089981" font-size="15.5" font-weight="normal" text-anchor="start" textLength="51.3" lengthAdjust="spacingAndGlyphs" >+0.0014</text>
<text x="464.8" y="37.8" fill="#089981" font-size="15.5" font-weight="normal" text-anchor="start" textLength="55" lengthAdjust="spacingAndGlyphs" >(+0.24%)</text>
<text x="22.8" y="59.3" fill="#131722" font-size="15.5" font-weight="normal" text-anchor="start" textLength="112.4" lengthAdjust="spacingAndGlyphs" >MA (20, close, 0)</text>
<text x="144.7" y="59.3" fill="#2196F3" font-size="15.5" font-weight="normal" text-anchor="start" textLength="44.4" lengthAdjust="spacingAndGlyphs" >0.5965</text>
<text x="22.8" y="80.3" fill="#131722" font-size="15.5" font-weight="normal" text-anchor="start" textLength="120.4" lengthAdjust="spacingAndGlyphs" >MA (100, close, 0)</text>
<text x="153.1" y="80.3" fill="#2962FF" font-size="15.5" font-weight="normal" text-anchor="start" textLength="44" lengthAdjust="spacingAndGlyphs" >0.6119</text>
<text x="22.8" y="100.6" fill="#131722" font-size="15.5" font-weight="normal" text-anchor="start" textLength="120.4" lengthAdjust="spacingAndGlyphs" >MA (200, close, 0)</text>
<text x="153.1" y="100.6" fill="#2D1CF0" font-size="15.5" font-weight="normal" text-anchor="start" textLength="43.5" lengthAdjust="spacingAndGlyphs" >0.6051</text>
<text x="22.8" y="351.3" fill="#131722" font-size="15.5" font-weight="normal" text-anchor="start" textLength="51.2" lengthAdjust="spacingAndGlyphs" >RSI (14)</text>
<text x="83.5" y="351.3" fill="#7E57C2" font-size="15.5" font-weight="normal" text-anchor="start" textLength="37" lengthAdjust="spacingAndGlyphs" >42.74</text>
<text x="22.8" y="508.2" fill="#131722" font-size="15.5" font-weight="normal" text-anchor="start" textLength="156.4" lengthAdjust="spacingAndGlyphs" >MACD (12, 26, close, 9)</text>
<text x="189.8" y="508.2" fill="#FFCDD2" font-size="15.5" font-weight="normal" text-anchor="start" textLength="51.4" lengthAdjust="spacingAndGlyphs" >−0.0002</text>
<text x="251.5" y="508.2" fill="#2196F3" font-size="15.5" font-weight="normal" text-anchor="start" textLength="50.7" lengthAdjust="spacingAndGlyphs" >−0.0041</text>
<text x="313.4" y="508.2" fill="#FF6D00" font-size="15.5" font-weight="normal" text-anchor="start" textLength="50.7" lengthAdjust="spacingAndGlyphs" >−0.0039</text>
<clipPath id="ca1"><rect x="1587" y="14" width="74" height="311"/></clipPath>
<g clip-path="url(#ca1)">
<text x="1597" y="52.8" fill="#131722" font-size="15.5" font-weight="normal" text-anchor="start" textLength="45" lengthAdjust="spacingAndGlyphs" >0.6400</text>
<text x="1597" y="92.88" fill="#131722" font-size="15.5" font-weight="normal" text-anchor="start" textLength="45" lengthAdjust="spacingAndGlyphs" >0.6300</text>
<text x="1597" y="132.96" fill="#131722" font-size="15.5" font-weight="normal" text-anchor="start" textLength="45" lengthAdjust="spacingAndGlyphs" >0.6200</text>
<text x="1597" y="173.04" fill="#131722" font-size="15.5" font-weight="normal" text-anchor="start" textLength="45" lengthAdjust="spacingAndGlyphs" >0.6100</text>
<text x="1597" y="213.12" fill="#131722" font-size="15.5" font-weight="normal" text-anchor="start" textLength="45" lengthAdjust="spacingAndGlyphs" >0.6000</text>
<text x="1597" y="253.2" fill="#131722" font-size="15.5" font-weight="normal" text-anchor="start" textLength="45" lengthAdjust="spacingAndGlyphs" >0.5900</text>
<text x="1597" y="293.28" fill="#131722" font-size="15.5" font-weight="normal" text-anchor="start" textLength="45" lengthAdjust="spacingAndGlyphs" >0.5800</text>
</g>
<path d="M1587,150H1646a2,2 0 0 1 2,2V168.8a2,2 0 0 1 -2,2H1587Z" fill="#2962FF"/>
<text x="1597" y="165.7" fill="#FFFFFF" font-size="15.5" font-weight="normal" text-anchor="start" textLength="44.3" lengthAdjust="spacingAndGlyphs" stroke="#FFFFFF" stroke-width="0.35">0.6119</text>
<path d="M1587,177.2H1646a2,2 0 0 1 2,2V196a2,2 0 0 1 -2,2H1587Z" fill="#2D1CF0"/>
<text x="1597" y="192.9" fill="#FFFFFF" font-size="15.5" font-weight="normal" text-anchor="start" textLength="44.3" lengthAdjust="spacingAndGlyphs" stroke="#FFFFFF" stroke-width="0.35">0.6051</text>
<path d="M1587,203H1646a2,2 0 0 1 2,2V222.2a2,2 0 0 1 -2,2H1587Z" fill="#2196F3"/>
<text x="1597" y="218.9" fill="#FFFFFF" font-size="15.5" font-weight="normal" text-anchor="start" textLength="44.3" lengthAdjust="spacingAndGlyphs" stroke="#FFFFFF" stroke-width="0.35">0.5965</text>
<path d="M1587,224.2H1646a2,2 0 0 1 2,2V242.8a2,2 0 0 1 -2,2H1587Z" fill="#089981"/>
<text x="1597" y="239.8" fill="#FFFFFF" font-size="15.5" font-weight="normal" text-anchor="start" textLength="44.3" lengthAdjust="spacingAndGlyphs" stroke="#FFFFFF" stroke-width="0.35">0.5934</text>
<clipPath id="ca2"><rect x="1587" y="326" width="74" height="156"/></clipPath>
<g clip-path="url(#ca2)">
<text x="1597" y="333.2" fill="#131722" font-size="15.5" font-weight="normal" text-anchor="start" textLength="36.6" lengthAdjust="spacingAndGlyphs" >80.00</text>
<text x="1597" y="386.9" fill="#131722" font-size="15.5" font-weight="normal" text-anchor="start" textLength="36.6" lengthAdjust="spacingAndGlyphs" >60.00</text>
<text x="1597" y="441.2" fill="#131722" font-size="15.5" font-weight="normal" text-anchor="start" textLength="36.6" lengthAdjust="spacingAndGlyphs" >40.00</text>
</g>
<path d="M1587,419.2H1638.8a2,2 0 0 1 2,2V437.8a2,2 0 0 1 -2,2H1587Z" fill="#7E57C2"/>
<text x="1597" y="434.8" fill="#FFFFFF" font-size="15.5" font-weight="normal" text-anchor="start" textLength="36.8" lengthAdjust="spacingAndGlyphs" stroke="#FFFFFF" stroke-width="0.35">42.74</text>
<clipPath id="ca3"><rect x="1587" y="483" width="74" height="156"/></clipPath>
<g clip-path="url(#ca3)">
<text x="1597.1" y="524.6" fill="#131722" font-size="15.5" font-weight="normal" text-anchor="start" textLength="44.7" lengthAdjust="spacingAndGlyphs" >0.0050</text>
</g>
<path d="M1587,555.1H1655a2,2 0 0 1 2,2V573.6a2,2 0 0 1 -2,2H1587Z" fill="#FFCDD2"/>
<text x="1597.9" y="570.65" fill="#131722" font-size="15.5" font-weight="normal" text-anchor="start" textLength="51.3" lengthAdjust="spacingAndGlyphs" >−0.0002</text>
<path d="M1587,588.1H1655a2,2 0 0 1 2,2V606.7a2,2 0 0 1 -2,2H1587Z" fill="#FF6D00"/>
<text x="1597.9" y="603.7" fill="#FFFFFF" font-size="15.5" font-weight="normal" text-anchor="start" textLength="51.3" lengthAdjust="spacingAndGlyphs" stroke="#FFFFFF" stroke-width="0.35">−0.0039</text>
<path d="M1587,608.7H1655a2,2 0 0 1 2,2V627.6a2,2 0 0 1 -2,2H1587Z" fill="#2196F3"/>
<text x="1597.9" y="624.45" fill="#FFFFFF" font-size="15.5" font-weight="normal" text-anchor="start" textLength="51.3" lengthAdjust="spacingAndGlyphs" stroke="#FFFFFF" stroke-width="0.35">−0.0041</text>
<text x="70.9" y="662.4" fill="#131722" font-size="15.5" font-weight="normal" text-anchor="start" textLength="24" lengthAdjust="spacingAndGlyphs" >Aug</text>
<text x="244.15" y="662.4" fill="#131722" font-size="15.5" font-weight="normal" text-anchor="start" textLength="23.5" lengthAdjust="spacingAndGlyphs" >Sep</text>
<text x="401.5" y="662.4" fill="#131722" font-size="15.5" font-weight="normal" text-anchor="start" textLength="22.8" lengthAdjust="spacingAndGlyphs" >Oct</text>
<text x="565.6" y="662.4" fill="#131722" font-size="15.5" font-weight="normal" text-anchor="start" textLength="24.6" lengthAdjust="spacingAndGlyphs" >Nov</text>
<text x="730.8" y="662.4" fill="#131722" font-size="15.5" font-weight="normal" text-anchor="start" textLength="24.2" lengthAdjust="spacingAndGlyphs" >Dec</text>
<text x="883.9" y="662.4" fill="#131722" font-size="15.5" font-weight="bold" text-anchor="start" textLength="34" lengthAdjust="spacingAndGlyphs" >2024</text>
<text x="1060.9" y="662.4" fill="#131722" font-size="15.5" font-weight="normal" text-anchor="start" textLength="24" lengthAdjust="spacingAndGlyphs" >Feb</text>
<text x="1218.9" y="662.4" fill="#131722" font-size="15.5" font-weight="normal" text-anchor="start" textLength="24" lengthAdjust="spacingAndGlyphs" >Mar</text>
<text x="1376.5" y="662.4" fill="#131722" font-size="15.5" font-weight="normal" text-anchor="start" textLength="22.8" lengthAdjust="spacingAndGlyphs" >Apr</text>
<text x="1540.15" y="662.4" fill="#131722" font-size="15.5" font-weight="normal" text-anchor="start" textLength="25.5" lengthAdjust="spacingAndGlyphs" >May</text>
<g transform="translate(13.1,687.3) scale(0.69,0.672)" fill="#131722"><path d="M14 22H7V11H0V4h14v18zM28 22h-8l7.5-18h8L28 22z"/><circle cx="20" cy="8" r="4"/></g>
<text x="42.4" y="701.9" fill="#131722" font-size="15.8" font-weight="normal" text-anchor="start" textLength="87" lengthAdjust="spacingAndGlyphs" >TradingView</text>
</svg>
</body></html>
